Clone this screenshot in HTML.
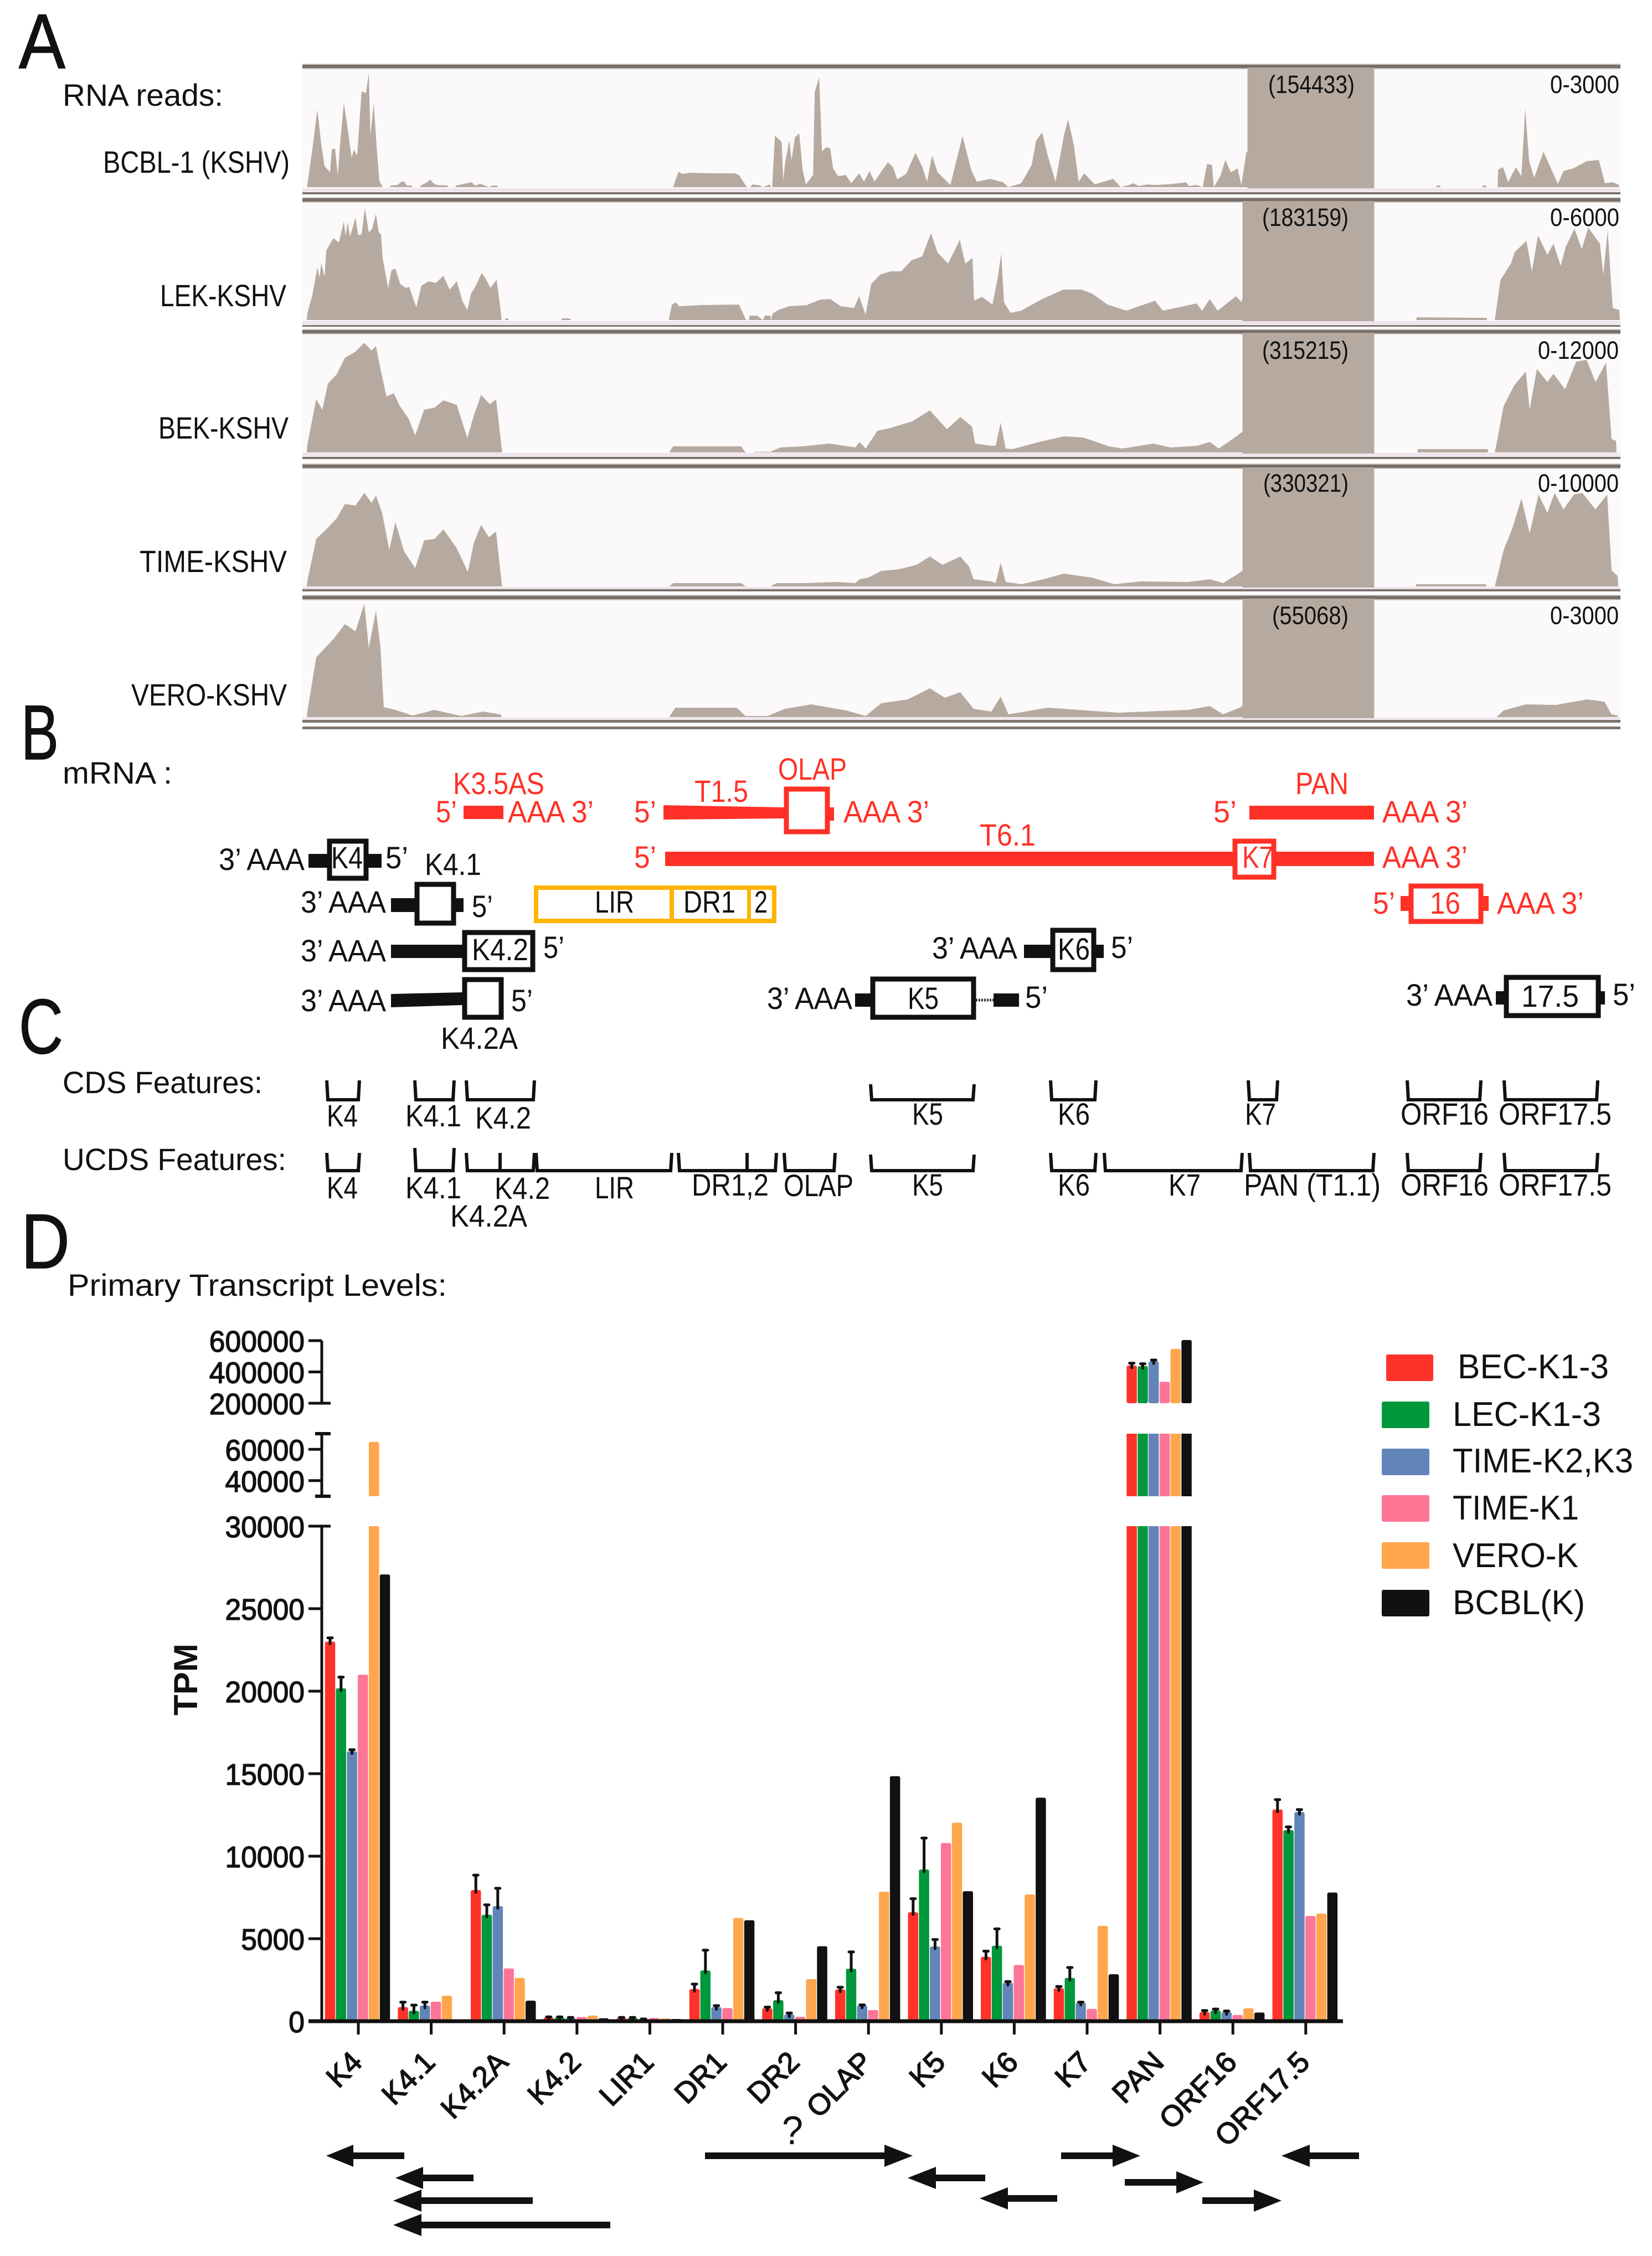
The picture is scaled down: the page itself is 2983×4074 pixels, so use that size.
<!DOCTYPE html>
<html lang="en">
<head>
<meta charset="utf-8">
<title>KSHV transcript coverage and levels</title>
<style>
html,body{margin:0;padding:0;background:#fff;}
svg{display:block;}
text{font-family:"Liberation Sans",sans-serif;fill:#111;}
.p{font-size:140px;stroke:#111;stroke-width:1.5;}
.t{font-size:56px;}
.s{font-size:45px;}
.r{fill:#ff3127;}
.k{fill:#111;}
.red{fill:#ff3127;}
.box{fill:#fff;stroke:#111;stroke-width:9;}
.rbox{fill:#fff;stroke:#ff3127;stroke-width:9;}
.obox{fill:#fff;stroke:#ffb400;stroke-width:8;}
.br{fill:none;stroke:#111;stroke-width:6;}
.leg{font-size:62px;}
</style>
</head>
<body>
<svg id="fig" xmlns="http://www.w3.org/2000/svg" width="2983" height="4074" viewBox="0 0 2983 4074">
<rect width="2983" height="4074" fill="#fff"/>

<text class="p" x="34" y="123" textLength="84" lengthAdjust="spacingAndGlyphs">A</text>
<text class="p" x="38" y="1371" textLength="68" lengthAdjust="spacingAndGlyphs">B</text>
<text class="p" x="34" y="1902" textLength="80" lengthAdjust="spacingAndGlyphs">C</text>
<text class="p" x="38" y="2290" textLength="88" lengthAdjust="spacingAndGlyphs">D</text>

<!-- Panel A -->
<g id="tracks"></g>
<text class="t" x="113" y="191" textLength="290" lengthAdjust="spacingAndGlyphs">RNA reads:</text>
<text class="t" x="186" y="312" textLength="337" lengthAdjust="spacingAndGlyphs">BCBL-1 (KSHV)</text>
<text class="t" x="289" y="553" textLength="228" lengthAdjust="spacingAndGlyphs">LEK-KSHV</text>
<text class="t" x="286" y="792" textLength="235" lengthAdjust="spacingAndGlyphs">BEK-KSHV</text>
<text class="t" x="252" y="1033" textLength="266" lengthAdjust="spacingAndGlyphs">TIME-KSHV</text>
<text class="t" x="237" y="1274" textLength="281" lengthAdjust="spacingAndGlyphs">VERO-KSHV</text>
<text class="s" x="2290" y="168" textLength="156" lengthAdjust="spacingAndGlyphs">(154433)</text>
<text class="s" x="2799" y="168" textLength="125" lengthAdjust="spacingAndGlyphs">0-3000</text>
<text class="s" x="2279" y="408" textLength="156" lengthAdjust="spacingAndGlyphs">(183159)</text>
<text class="s" x="2799" y="408" textLength="125" lengthAdjust="spacingAndGlyphs">0-6000</text>
<text class="s" x="2279" y="648" textLength="156" lengthAdjust="spacingAndGlyphs">(315215)</text>
<text class="s" x="2777" y="648" textLength="146" lengthAdjust="spacingAndGlyphs">0-12000</text>
<text class="s" x="2281" y="888" textLength="154" lengthAdjust="spacingAndGlyphs">(330321)</text>
<text class="s" x="2777" y="888" textLength="146" lengthAdjust="spacingAndGlyphs">0-10000</text>
<text class="s" x="2297" y="1127" textLength="138" lengthAdjust="spacingAndGlyphs">(55068)</text>
<text class="s" x="2799" y="1127" textLength="124" lengthAdjust="spacingAndGlyphs">0-3000</text>

<!-- Panel B -->
<text class="t" x="113" y="1415" textLength="198" lengthAdjust="spacingAndGlyphs">mRNA :</text>
<g>
<text class="t r" x="818" y="1434" textLength="165" lengthAdjust="spacingAndGlyphs">K3.5AS</text>
<text class="t r" x="787" y="1485" textLength="38" lengthAdjust="spacingAndGlyphs">5’</text>
<rect class="red" x="837" y="1455" width="72" height="24"/>
<text class="t r" x="917" y="1485" textLength="155" lengthAdjust="spacingAndGlyphs">AAA 3’</text>
<text class="t r" x="1145" y="1485" textLength="40" lengthAdjust="spacingAndGlyphs">5’</text>
<text class="t r" x="1254" y="1448" textLength="97" lengthAdjust="spacingAndGlyphs">T1.5</text>
<polygon class="red" points="1198,1454 1416,1458 1416,1478 1198,1480"/>
<rect class="red" x="1498" y="1458" width="8" height="24"/>
<rect class="rbox" x="1420" y="1425" width="74" height="77"/>
<text class="t r" x="1405" y="1408" textLength="124" lengthAdjust="spacingAndGlyphs">OLAP</text>
<text class="t r" x="1523" y="1485" textLength="155" lengthAdjust="spacingAndGlyphs">AAA 3’</text>
<text class="t r" x="2339" y="1434" textLength="96" lengthAdjust="spacingAndGlyphs">PAN</text>
<text class="t r" x="2191" y="1485" textLength="42" lengthAdjust="spacingAndGlyphs">5’</text>
<rect class="red" x="2256" y="1455" width="225" height="25"/>
<text class="t r" x="2496" y="1485" textLength="154" lengthAdjust="spacingAndGlyphs">AAA 3’</text>
<text class="t r" x="1145" y="1567" textLength="40" lengthAdjust="spacingAndGlyphs">5’</text>
<rect class="red" x="1201" y="1538" width="1280" height="26"/>
<text class="t r" x="1769" y="1527" textLength="101" lengthAdjust="spacingAndGlyphs">T6.1</text>
<rect class="rbox" x="2230" y="1519" width="70" height="65"/>
<text class="t r" x="2243" y="1567" textLength="56" lengthAdjust="spacingAndGlyphs">K7</text>
<text class="t r" x="2496" y="1567" textLength="154" lengthAdjust="spacingAndGlyphs">AAA 3’</text>
<text class="t r" x="2479" y="1650" textLength="40" lengthAdjust="spacingAndGlyphs">5’</text>
<rect class="red" x="2529" y="1618" width="159" height="27"/>
<rect class="rbox" x="2548" y="1600" width="126" height="64"/>
<text class="t r" x="2582" y="1650" textLength="55" lengthAdjust="spacingAndGlyphs">16</text>
<text class="t r" x="2703" y="1650" textLength="157" lengthAdjust="spacingAndGlyphs">AAA 3’</text>
</g>
<g>
<text class="t" x="395" y="1571" textLength="155" lengthAdjust="spacingAndGlyphs">3’ AAA</text>
<rect class="k" x="557" y="1542" width="132" height="25"/>
<rect class="box" x="595" y="1519" width="66" height="67"/>
<text class="t" x="598" y="1568" textLength="57" lengthAdjust="spacingAndGlyphs">K4</text>
<text class="t" x="696" y="1568" textLength="41" lengthAdjust="spacingAndGlyphs">5’</text>
<text class="t" x="767" y="1580" textLength="102" lengthAdjust="spacingAndGlyphs">K4.1</text>
<text class="t" x="543" y="1648" textLength="154" lengthAdjust="spacingAndGlyphs">3’ AAA</text>
<rect class="k" x="706" y="1622" width="131" height="25"/>
<rect class="box" x="753" y="1597" width="66" height="70"/>
<text class="t" x="852" y="1656" textLength="38" lengthAdjust="spacingAndGlyphs">5’</text>
<text class="t" x="543" y="1736" textLength="154" lengthAdjust="spacingAndGlyphs">3’ AAA</text>
<rect class="k" x="706" y="1706" width="129" height="24"/>
<rect class="box" x="839" y="1684" width="123" height="67"/>
<text class="t" x="852" y="1734" textLength="102" lengthAdjust="spacingAndGlyphs">K4.2</text>
<text class="t" x="981" y="1730" textLength="38" lengthAdjust="spacingAndGlyphs">5’</text>
<text class="t" x="543" y="1826" textLength="154" lengthAdjust="spacingAndGlyphs">3’ AAA</text>
<polygon class="k" points="706,1795 835,1792 835,1815 706,1819"/>
<rect class="box" x="839" y="1769" width="66" height="68"/>
<text class="t" x="923" y="1826" textLength="39" lengthAdjust="spacingAndGlyphs">5’</text>
<text class="t" x="796" y="1894" textLength="139" lengthAdjust="spacingAndGlyphs">K4.2A</text>
<g>
<rect class="obox" x="968" y="1603" width="430" height="60"/>
<rect x="1209" y="1603" width="8" height="60" fill="#ffb400"/>
<rect x="1349" y="1603" width="7" height="60" fill="#ffb400"/>
<text class="t" x="1074" y="1648" textLength="71" lengthAdjust="spacingAndGlyphs">LIR</text>
<text class="t" x="1234" y="1648" textLength="94" lengthAdjust="spacingAndGlyphs">DR1</text>
<text class="t" x="1362" y="1648" textLength="24" lengthAdjust="spacingAndGlyphs">2</text>
</g>
<text class="t" x="1683" y="1731" textLength="154" lengthAdjust="spacingAndGlyphs">3’ AAA</text>
<rect class="k" x="1849" y="1706" width="144" height="24"/>
<rect class="box" x="1901" y="1680" width="74" height="71"/>
<text class="t" x="1910" y="1733" textLength="58" lengthAdjust="spacingAndGlyphs">K6</text>
<text class="t" x="2006" y="1730" textLength="40" lengthAdjust="spacingAndGlyphs">5’</text>
<text class="t" x="1385" y="1822" textLength="154" lengthAdjust="spacingAndGlyphs">3’ AAA</text>
<rect class="k" x="1544" y="1794" width="28" height="24"/>
<rect class="box" x="1576" y="1768" width="182" height="69"/>
<text class="t" x="1639" y="1822" textLength="56" lengthAdjust="spacingAndGlyphs">K5</text>
<line x1="1762" y1="1806" x2="1794" y2="1806" stroke="#333" stroke-width="5" stroke-dasharray="3 2"/>
<rect class="k" x="1794" y="1794" width="46" height="24"/>
<text class="t" x="1851" y="1820" textLength="41" lengthAdjust="spacingAndGlyphs">5’</text>
<text class="t" x="2539" y="1816" textLength="156" lengthAdjust="spacingAndGlyphs">3’ AAA</text>
<rect class="k" x="2701" y="1790" width="197" height="24"/>
<rect class="box" x="2720" y="1765" width="166" height="69"/>
<text class="t" x="2747" y="1818" textLength="104" lengthAdjust="spacingAndGlyphs">17.5</text>
<text class="t" x="2912" y="1815" textLength="41" lengthAdjust="spacingAndGlyphs">5’</text>
</g>

<!-- Panel C -->
<text class="t" x="113" y="1974" textLength="361" lengthAdjust="spacingAndGlyphs">CDS Features:</text>
<text class="t" x="113" y="2113" textLength="404" lengthAdjust="spacingAndGlyphs">UCDS Features:</text>
<g>
<path class="br" d="M590,1951L592,1986H647L649,1951"/>
<path class="br" d="M749,1951L751,1986H818L820,1951"/>
<path class="br" d="M842,1951L844,1986H963L965,1951"/>
<path class="br" d="M1572,1958L1574,1986H1757L1759,1958"/>
<path class="br" d="M1897,1951L1899,1986H1977L1979,1951"/>
<path class="br" d="M2254,1951L2256,1986H2305L2307,1951"/>
<path class="br" d="M2541,1951L2543,1986H2672L2674,1951"/>
<path class="br" d="M2716,1951L2718,1986H2883L2885,1951"/>
<text class="t" x="590" y="2034" textLength="56" lengthAdjust="spacingAndGlyphs">K4</text>
<text class="t" x="732" y="2034" textLength="101" lengthAdjust="spacingAndGlyphs">K4.1</text>
<text class="t" x="858" y="2038" textLength="101" lengthAdjust="spacingAndGlyphs">K4.2</text>
<text class="t" x="1647" y="2031" textLength="56" lengthAdjust="spacingAndGlyphs">K5</text>
<text class="t" x="1910" y="2031" textLength="58" lengthAdjust="spacingAndGlyphs">K6</text>
<text class="t" x="2248" y="2031" textLength="56" lengthAdjust="spacingAndGlyphs">K7</text>
<text class="t" x="2529" y="2031" textLength="159" lengthAdjust="spacingAndGlyphs">ORF16</text>
<text class="t" x="2706" y="2031" textLength="204" lengthAdjust="spacingAndGlyphs">ORF17.5</text>
</g>
<g>
<path class="br" d="M590,2082L592,2114H647L649,2082"/>
<path class="br" d="M749,2073L751,2114H818L820,2073"/>
<path class="br" d="M842,2082L844,2114H903V2082"/>
<path class="br" d="M903,2114H963L965,2082"/>
<path class="br" d="M968,2082L970,2114H1211L1213,2082"/>
<path class="br" d="M1225,2082L1227,2114H1349V2082"/>
<path class="br" d="M1349,2114H1400L1402,2082"/>
<path class="br" d="M1416,2082L1418,2114H1506L1508,2082"/>
<path class="br" d="M1572,2085L1574,2114H1757L1759,2085"/>
<path class="br" d="M1897,2082L1899,2114H1977L1979,2082"/>
<path class="br" d="M1994,2082L1996,2114H2241L2243,2082"/>
<path class="br" d="M2256,2082L2258,2114H2479L2481,2082"/>
<path class="br" d="M2541,2082L2543,2114H2672L2674,2082"/>
<path class="br" d="M2716,2082L2718,2114H2883L2885,2082"/>
<text class="t" x="590" y="2164" textLength="56" lengthAdjust="spacingAndGlyphs">K4</text>
<text class="t" x="732" y="2164" textLength="101" lengthAdjust="spacingAndGlyphs">K4.1</text>
<text class="t" x="893" y="2165" textLength="100" lengthAdjust="spacingAndGlyphs">K4.2</text>
<text class="t" x="813" y="2215" textLength="139" lengthAdjust="spacingAndGlyphs">K4.2A</text>
<text class="t" x="1074" y="2164" textLength="71" lengthAdjust="spacingAndGlyphs">LIR</text>
<text class="t" x="1249" y="2159" textLength="139" lengthAdjust="spacingAndGlyphs">DR1,2</text>
<text class="t" x="1415" y="2160" textLength="126" lengthAdjust="spacingAndGlyphs">OLAP</text>
<text class="t" x="1647" y="2159" textLength="56" lengthAdjust="spacingAndGlyphs">K5</text>
<text class="t" x="1910" y="2159" textLength="58" lengthAdjust="spacingAndGlyphs">K6</text>
<text class="t" x="2110" y="2159" textLength="58" lengthAdjust="spacingAndGlyphs">K7</text>
<text class="t" x="2246" y="2159" textLength="247" lengthAdjust="spacingAndGlyphs">PAN (T1.1)</text>
<text class="t" x="2529" y="2159" textLength="159" lengthAdjust="spacingAndGlyphs">ORF16</text>
<text class="t" x="2706" y="2159" textLength="204" lengthAdjust="spacingAndGlyphs">ORF17.5</text>
</g>

<!-- Panel D -->
<text class="t" x="122" y="2340" textLength="685" lengthAdjust="spacingAndGlyphs">Primary Transcript Levels:</text>
<g id="chart"></g>
<text x="0" y="0" transform="translate(356,3098) rotate(-90)" font-size="60" font-weight="bold" textLength="130" lengthAdjust="spacingAndGlyphs">TPM</text>
<text x="1412" y="3872" font-size="72" textLength="38" lengthAdjust="spacingAndGlyphs">?</text>

<g>
<rect x="2503" y="2446" width="85" height="48" rx="3" fill="#ff3229"/>
<text class="leg" x="2632" y="2489" textLength="273" lengthAdjust="spacingAndGlyphs">BEC-K1-3</text>
<rect x="2495" y="2531" width="86" height="48" rx="3" fill="#00983a"/>
<text class="leg" x="2623" y="2575" textLength="268" lengthAdjust="spacingAndGlyphs">LEC-K1-3</text>
<rect x="2495" y="2616" width="86" height="48" rx="3" fill="#6285b9"/>
<text class="leg" x="2623" y="2659" textLength="326" lengthAdjust="spacingAndGlyphs">TIME-K2,K3</text>
<rect x="2495" y="2700" width="86" height="48" rx="3" fill="#ff7596"/>
<text class="leg" x="2623" y="2744" textLength="228" lengthAdjust="spacingAndGlyphs">TIME-K1</text>
<rect x="2495" y="2785" width="86" height="48" rx="3" fill="#ffa64d"/>
<text class="leg" x="2623" y="2830" textLength="227" lengthAdjust="spacingAndGlyphs">VERO-K</text>
<rect x="2495" y="2871" width="86" height="48" rx="3" fill="#111"/>
<text class="leg" x="2623" y="2915" textLength="239" lengthAdjust="spacingAndGlyphs">BCBL(K)</text>
</g>

<g fill="#111">
<polygon points="589,3893 638,3873 638,3887 730,3887 730,3899 638,3899 638,3913"/>
<polygon points="714,3933 764,3913 764,3927 855,3927 855,3939 764,3939 764,3953"/>
<polygon points="710,3974 761,3954 761,3968 962,3968 962,3980 761,3980 761,3994"/>
<polygon points="710,4018 761,3998 761,4012 1102,4012 1102,4024 761,4024 761,4038"/>
<polygon points="1648,3893 1597,3873 1597,3887 1273,3887 1273,3899 1597,3899 1597,3913"/>
<polygon points="1639,3933 1690,3913 1690,3927 1779,3927 1779,3939 1690,3939 1690,3953"/>
<polygon points="1769,3970 1820,3950 1820,3964 1909,3964 1909,3976 1820,3976 1820,3990"/>
<polygon points="2059,3893 2009,3873 2009,3887 1916,3887 1916,3899 2009,3899 2009,3913"/>
<polygon points="2173,3941 2124,3921 2124,3935 2031,3935 2031,3947 2124,3947 2124,3961"/>
<polygon points="2314,3974 2264,3954 2264,3968 2171,3968 2171,3980 2264,3980 2264,3994"/>
<polygon points="2314,3893 2365,3873 2365,3887 2454,3887 2454,3899 2365,3899 2365,3913"/>
</g>
</svg>

<script>
// ---------- Panel A coverage data: [genome offset, read depth] ----------
const genomeWindow = [0, 2380];
const depthMax = 215;
const trackNames = ['bcbl', 'lek', 'bek', 'time', 'vero'];
const panBlockStart = [1706, 1697, 1697, 1697, 1697];
const panBlockEnd = 1935;
const bcblCoverage = [[6,0],[7,5],[16,68],[25,140],[32,78],[38,38],[48,27],[51,68],[57,70],[62,22],[67,88],[73,152],[80,105],[87,53],[91,68],[97,57],[105,173],[113,170],[118,207],[121,93],[127,152],[132,75],[137,12],[143,0],[156,0],[157,3],[170,4],[177,10],[182,10],[187,3],[196,3],[197,0],[210,0],[212,3],[222,8],[229,14],[234,8],[240,4],[260,3],[261,0],[274,0],[276,3],[290,6],[304,9],[310,3],[320,6],[328,3],[335,0],[342,3],[350,3],[351,0],[668,0],[672,12],[678,28],[684,24],[700,26],[740,25],[780,25],[787,22],[800,2],[802,0],[807,0],[812,5],[825,3],[830,0],[838,3],[842,5],[845,0],[847,0],[852,93],[864,82],[867,12],[870,42],[878,85],[882,48],[888,90],[896,97],[902,32],[908,5],[921,22],[924,172],[932,198],[937,65],[945,72],[952,70],[957,34],[966,20],[980,22],[990,7],[1004,25],[1013,10],[1023,29],[1032,10],[1056,45],[1065,37],[1073,14],[1089,24],[1106,62],[1118,37],[1127,10],[1136,57],[1146,27],[1169,4],[1191,92],[1207,30],[1217,10],[1241,15],[1264,9],[1274,0],[1297,7],[1316,40],[1324,84],[1335,99],[1345,57],[1359,10],[1375,97],[1382,122],[1392,77],[1401,10],[1411,25],[1430,5],[1463,15],[1477,0],[1492,4],[1500,7],[1510,2],[1525,5],[1540,4],[1560,5],[1590,8],[1595,9],[1600,2],[1614,4],[1625,0],[1633,42],[1642,40],[1645,0],[1657,20],[1666,49],[1676,27],[1688,34],[1695,4],[1704,64],[1935,0],[2047,0],[2048,3],[2054,3],[2055,0],[2130,0],[2131,3],[2137,3],[2138,0],[2158,0],[2159,32],[2168,36],[2177,9],[2191,36],[2201,20],[2208,142],[2215,47],[2224,17],[2241,64],[2253,37],[2267,6],[2277,29],[2295,34],[2319,47],[2341,49],[2352,7],[2366,9],[2377,4],[2378,0]];
const lekCoverage = [[6,0],[7,12],[16,45],[25,95],[29,77],[32,103],[38,78],[41,125],[48,138],[54,148],[64,140],[73,178],[76,152],[80,177],[84,150],[94,185],[99,153],[105,155],[111,202],[118,158],[124,165],[131,192],[136,158],[140,155],[143,112],[153,58],[159,90],[166,93],[175,65],[185,58],[191,60],[204,23],[213,62],[226,70],[239,67],[253,80],[264,55],[277,70],[287,35],[296,18],[303,48],[312,63],[322,85],[328,77],[338,58],[349,73],[355,28],[358,0],[364,0],[365,3],[370,3],[371,0],[466,0],[467,3],[482,3],[483,0],[660,0],[666,28],[673,32],[679,25],[717,27],[787,28],[794,13],[800,0],[805,0],[806,8],[820,8],[830,0],[834,8],[844,8],[845,0],[848,12],[858,18],[877,25],[909,27],[934,37],[952,38],[971,25],[995,22],[1004,43],[1016,10],[1026,65],[1042,82],[1061,88],[1080,88],[1099,108],[1118,115],[1134,157],[1146,122],[1165,102],[1186,145],[1196,102],[1209,112],[1212,35],[1226,42],[1245,28],[1255,78],[1261,120],[1266,32],[1278,13],[1297,17],[1335,38],[1373,55],[1406,55],[1425,48],[1453,28],[1487,17],[1539,35],[1553,17],[1614,30],[1624,17],[1638,38],[1652,17],[1685,43],[1695,33],[1700,50],[1935,0],[2011,0],[2012,5],[2138,4],[2139,0],[2153,0],[2163,72],[2182,102],[2189,123],[2210,143],[2220,88],[2231,153],[2248,118],[2259,138],[2272,98],[2281,132],[2297,165],[2310,128],[2322,167],[2343,138],[2349,82],[2357,162],[2366,22],[2378,18],[2379,0]];
const bekCoverage = [[6,0],[7,14],[23,96],[34,77],[44,124],[60,141],[75,171],[94,182],[110,198],[123,184],[131,192],[139,151],[150,101],[163,107],[174,84],[190,61],[202,31],[218,77],[237,81],[253,94],[277,86],[296,26],[308,67],[321,104],[337,87],[348,96],[356,27],[359,0],[661,0],[668,11],[791,11],[799,0],[815,0],[816,1],[845,1],[847,3],[863,9],[902,11],[950,16],[997,9],[1005,19],[1016,7],[1037,39],[1060,44],[1100,56],[1132,76],[1163,42],[1187,64],[1208,47],[1214,16],[1243,12],[1251,12],[1260,54],[1269,7],[1282,6],[1330,19],[1374,29],[1409,27],[1456,11],[1480,7],[1536,16],[1567,9],[1615,12],[1638,19],[1654,7],[1686,29],[1700,40],[1935,0],[2013,0],[2014,6],[2140,6],[2141,0],[2153,0],[2169,84],[2188,121],[2209,146],[2216,77],[2229,151],[2248,127],[2259,142],[2280,114],[2300,164],[2319,167],[2335,127],[2354,162],[2364,24],[2372,21],[2373,0]];
const timeCoverage = [[6,0],[7,10],[23,86],[44,106],[60,123],[75,149],[94,146],[110,169],[123,151],[131,164],[142,133],[155,66],[166,116],[182,63],[202,33],[218,83],[237,86],[253,103],[277,69],[297,26],[308,79],[321,111],[335,89],[348,99],[356,26],[359,0],[661,0],[668,6],[791,6],[799,0],[846,0],[847,2],[855,6],[902,6],[965,8],[997,6],[1005,13],[1021,16],[1044,28],[1076,31],[1108,39],[1132,54],[1155,39],[1187,54],[1203,36],[1211,13],[1243,9],[1251,6],[1260,43],[1269,8],[1298,4],[1337,13],[1374,23],[1425,16],[1465,4],[1512,9],[1599,8],[1638,13],[1662,6],[1686,21],[1700,30],[1935,0],[2010,0],[2011,4],[2137,4],[2138,0],[2153,0],[2169,66],[2185,106],[2201,159],[2216,96],[2232,166],[2248,133],[2261,169],[2277,139],[2296,166],[2311,169],[2335,139],[2356,166],[2364,29],[2375,19],[2376,0]];
const veroCoverage = [[6,0],[7,10],[23,108],[39,125],[55,142],[75,168],[94,155],[110,205],[118,125],[131,192],[139,128],[145,18],[166,13],[197,3],[237,13],[285,2],[324,10],[356,5],[359,0],[661,0],[672,17],[783,17],[799,2],[839,2],[870,15],[918,23],[981,12],[1016,2],[1044,25],[1092,32],[1132,52],[1159,35],[1187,45],[1211,15],[1243,10],[1260,37],[1274,5],[1345,17],[1472,8],[1599,13],[1638,20],[1662,5],[1694,18],[1700,25],[1935,0],[2156,0],[2169,12],[2209,23],[2264,22],[2319,32],[2351,28],[2364,5],[2375,3],[2376,0]];
const coverageSeries = [bcblCoverage, lekCoverage, bekCoverage, timeCoverage, veroCoverage];

// ---------- Panel D bar data ----------
const categories = ['K4','K4.1','K4.2A','K4.2','LIR1','DR1','DR2','OLAP','K5','K6','K7','PAN','ORF16','ORF17.5'];
const seriesNames = ['bec','lec','time-k2k3','time-k1','vero','bcbl'];
const becValues = [23000,855,7950,220,195,1950,780,1920,6600,3900,1995,440700,555,12825];
const lecValues = [20170,630,6450,220,195,3075,1275,3180,9195,4575,2625,437000,645,11580];
const timeK2K3Values = [16350,945,6975,195,135,855,405,945,4530,2325,1125,468000,555,12675];
const timeK1Values = [21000,1185,3195,255,195,795,270,675,10800,3405,750,337000,375,6375];
const veroValues = [64800,1545,2625,345,165,6255,2550,7845,12030,7680,5775,547000,780,6525];
const bcblValues = [27070,0,1245,180,135,6120,4545,14850,7875,13545,2850,604000,525,7800];
const becErrors = [230,300,900,40,30,300,75,135,825,345,105,15000,90,600];
const lecErrors = [680,345,600,40,30,1230,450,1020,1905,1020,630,15000,90,195];
const timeK2K3Errors = [100,210,1080,30,0,90,90,40,420,75,30,8000,60,150];
const lowerTicks = [0,5000,10000,15000,20000,25000,30000];
const middleTicks = [40000,60000];
const upperTicks = [200000,400000,600000];

const SVGNS = 'http://www.w3.org/2000/svg';
function make(parent, tag, attrs) {
  const el = document.createElementNS(SVGNS, tag);
  for (const k in attrs) el.setAttribute(k, attrs[k]);
  parent.appendChild(el);
  return el;
}

// ---------- Track drawing ----------
const trackFrame = [
  {top:117, base:338, pink:[340,346], dark:[347,351]},
  {top:358, base:578, pink:[580,586], dark:[587,590]},
  {top:596, base:817, pink:[818,824], dark:[825,829]},
  {top:839, base:1059, pink:[1060,1064], dark:[1064,1068]},
  {top:1076, base:1295, pink:[1296,1299], dark:[1300,1305]}
];
function genomeX(pos) {
  return 548 + (pos - genomeWindow[0]) * 2378 / (genomeWindow[1] - genomeWindow[0]);
}
function depthY(v, base) {
  return base - v * depthMax / 215;
}
const tracksG = document.getElementById('tracks');
trackFrame.forEach(function (f, i) {
  const g = make(tracksG, 'g', {});
  
  
  const bg = make(g, 'rect', {x:546, y:f.top, width:2380, height:f.dark[1]-f.top, fill:'#fbf9f9'});
  
  
  const halo = make(g, 'rect', {x:546, y:f.top-2, width:2380, height:10, fill:'#cfc7c3'});
  
  
  const bar = make(g, 'rect', {x:546, y:f.top, width:2380, height:6, fill:'#786e68'});
  
  
  const pink = make(g, 'rect', {x:546, y:f.pink[0], width:2380, height:f.pink[1]-f.pink[0], fill:'#efe4ec'});
  
  
  const dark = make(g, 'rect', {x:546, y:f.dark[0], width:2380, height:f.dark[1]-f.dark[0], fill:'#7d736d'});
  
  
  const series = coverageSeries[i];
  let d = 'M' + genomeX(series[0][0]).toFixed(1) + ',' + f.base;
  series.forEach(function (p) {
    d += 'L' + genomeX(p[0]).toFixed(1) + ',' + depthY(p[1], f.base).toFixed(1);
  });
  d += 'L' + genomeX(series[series.length-1][0]).toFixed(1) + ',' + f.base + 'Z';
  const area = make(g, 'path', {d:d, fill:'#b6aaa0'});
  
  
  const blockX = genomeX(panBlockStart[i]);
  const block = make(g, 'rect', {x:blockX, y:f.top+5, width:genomeX(panBlockEnd)-blockX, height:f.base-f.top-3, fill:'#b6aaa0'});
  
  
});
// closing double line under the last track
const lastLine = make(tracksG, 'rect', {x:546, y:1312, width:2380, height:5, fill:'#7d736d'});



// ---------- Bar chart ----------
const chart = document.getElementById('chart');
const seriesValues = [becValues, lecValues, timeK2K3Values, timeK1Values, veroValues, bcblValues];
const seriesErrors = [becErrors, lecErrors, timeK2K3Errors];
const seriesColors = ['#ff3229','#00983a','#6285b9','#ff7596','#ffa64d','#111111'];
const axisX = 581;
const lowerRange = {d0:0, d1:30000, y0:3650, y1:2756};
const middleRange = {d0:30000, d1:70000, y0:2702, y1:2589};
const upperRange = {d0:200000, d1:600000, y0:2534, y1:2421};
function segmentY(v, seg) {
  return seg.y0 + (v - seg.d0) * (seg.y1 - seg.y0) / (seg.d1 - seg.d0);
}
function valueY(v) {
  if (v <= lowerRange.d1) return segmentY(v, lowerRange);
  if (v <= middleRange.d1) return segmentY(v, middleRange);
  return segmentY(v, upperRange);
}
function categoryX(i) {
  return 647 + i * 131.6;
}
function barCenter(c, s) {
  return categoryX(c) - 1.5 + (s - 2.5) * 19.8;
}
const barW = 18.5;
seriesValues.forEach(function (vals, s) {
  const g = make(chart, 'g', {fill:seriesColors[s]});
  
  
  vals.forEach(function (v, c) {
    if (v <= 0) return;
    const x = barCenter(c, s) - barW / 2;
    function seg(top, bottom, rounded) {
      const r = make(g, 'rect', {x:x.toFixed(1), y:top.toFixed(1), width:barW, height:Math.max(0, bottom-top).toFixed(1), rx: rounded ? 3 : 0});
      
      
    }
    if (v <= lowerRange.d1) {
      seg(segmentY(v, lowerRange), lowerRange.y0, true);
    } else {
      seg(lowerRange.y1, lowerRange.y0, false);
      if (v <= middleRange.d1) {
        seg(segmentY(v, middleRange), middleRange.y0, true);
      } else {
        seg(middleRange.y1, middleRange.y0, false);
        seg(segmentY(v, upperRange), upperRange.y0, true);
      }
    }
  });
});
seriesErrors.forEach(function (errs, s) {
  const g = make(chart, 'g', {stroke:'#111', 'stroke-width':5, 'stroke-linecap':'round', fill:'none'});
  
  
  errs.forEach(function (e, c) {
    const v = seriesValues[s][c];
    const cx = barCenter(c, s);
    const yTop = valueY(v + e);
    const yVal = valueY(v);
    const stem = make(g, 'line', {x1:cx, x2:cx, y1:yTop, y2:yVal + 4});
    
    
    const cap = make(g, 'line', {x1:cx-4, x2:cx+4, y1:yTop, y2:yTop});
    
    
  });
});

// Y axes
const axes = make(chart, 'g', {stroke:'#111', 'stroke-width':5});


const lowLine = make(axes, 'line', {x1:axisX, x2:axisX, y1:segmentY(30000, lowerRange), y2:lowerRange.y0});


const midLine = make(axes, 'line', {x1:axisX, x2:axisX, y1:middleRange.y1, y2:middleRange.y0});


const upLine = make(axes, 'line', {x1:axisX, x2:axisX, y1:upperRange.y1, y2:upperRange.y0});


const capMidTop = make(axes, 'line', {x1:569, x2:597, y1:middleRange.y1, y2:middleRange.y1, 'stroke-width':6});


const capMidBot = make(axes, 'line', {x1:569, x2:597, y1:middleRange.y0, y2:middleRange.y0, 'stroke-width':6});


function drawTick(v, seg) {
  const y = segmentY(v, seg);
  const right = (v === 30000 || v === 200000) ? 597 : axisX;
  const t = make(axes, 'line', {x1:557, x2:right, y1:y, y2:y});
  
  
  const w = String(v).length * 28.7;
  const label = make(chart, 'text', {x:550, y:y+20, 'text-anchor':'end', 'font-size':54, stroke:'#111', 'stroke-width':1.4, textLength:w, lengthAdjust:'spacingAndGlyphs'});
  label.textContent = String(v);
  
  
}
lowerTicks.forEach(function (v) { drawTick(v, lowerRange); });
middleTicks.forEach(function (v) { drawTick(v, middleRange); });
upperTicks.forEach(function (v) { drawTick(v, upperRange); });

// X axis
const xLine = make(chart, 'line', {x1:557, x2:2425, y1:3650, y2:3650, stroke:'#111', 'stroke-width':7});


categories.forEach(function (name, c) {
  const x = categoryX(c);
  const t = make(chart, 'line', {x1:x, x2:x, y1:3650, y2:3674, stroke:'#111', 'stroke-width':5});
  
  
  const px = x + 10;
  const py = 3727;
  const label = make(chart, 'text', {x:0, y:0, 'text-anchor':'end', 'font-size':53, stroke:'#111', 'stroke-width':1.6, transform:'translate(' + px.toFixed(1) + ',' + py + ') rotate(-45)'});
  label.textContent = name;
  
  
});
</script>
</body>
</html>
